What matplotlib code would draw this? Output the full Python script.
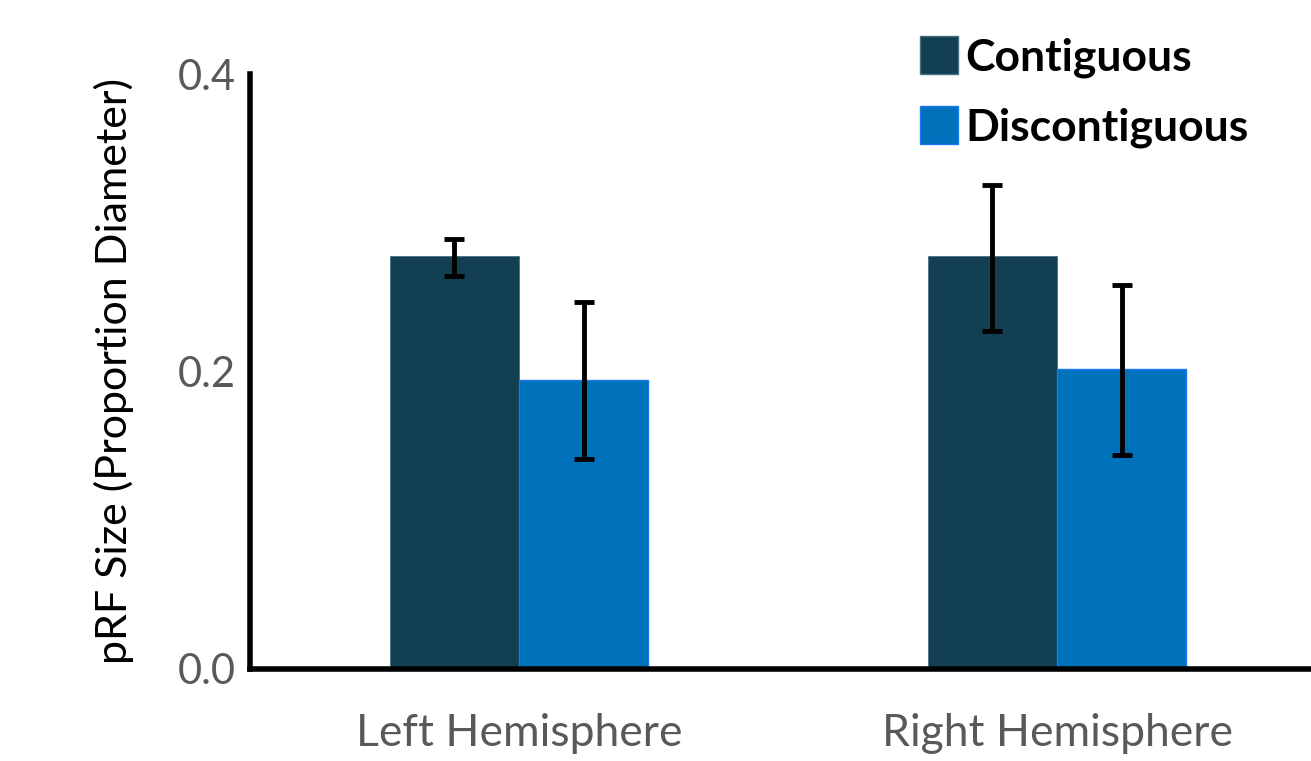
import matplotlib
matplotlib.use("Agg")
import matplotlib.pyplot as plt
import numpy as np
from matplotlib.patches import Rectangle

plt.rcParams['font.family'] = ['Lato', 'DejaVu Sans']

groups = ["Left Hemisphere", "Right Hemisphere"]
series = ["Contiguous", "Discontiguous"]
contig = [0.2776, 0.2776]
contig_lo = [0.264, 0.2272]
contig_hi = [0.289, 0.3254]
discontig = [0.1943, 0.2017]
discontig_lo = [0.1412, 0.1439]
discontig_hi = [0.2467, 0.2582]
yticks = [0.0, 0.2, 0.4]
ytick_labels = ["0.0", "0.2", "0.4"]

c1 = "#123f52"
c2 = "#0071bb"

fig = plt.figure(figsize=(13.11, 7.61), dpi=100)
ax = fig.add_axes([250/1311, 1-669/761, 1-250/1311, (669-74)/761])

x = np.arange(len(groups))
w = 0.24
err1 = [np.array(contig) - np.array(contig_lo), np.array(contig_hi) - np.array(contig)]
err2 = [np.array(discontig) - np.array(discontig_lo), np.array(discontig_hi) - np.array(discontig)]
ax.bar(x - w/2, contig, w, color=c1, edgecolor="#4a6f80", linewidth=0.6, zorder=2)
ax.bar(x + w/2, discontig, w, color=c2, edgecolor="#1a7af0", linewidth=1.0, zorder=2)
ax.errorbar(x - w/2, contig, yerr=err1, fmt='none', ecolor='black', elinewidth=3.5, capsize=7, capthick=3.5, zorder=3)
ax.errorbar(x + w/2, discontig, yerr=err2, fmt='none', ecolor='black', elinewidth=3.5, capsize=7, capthick=3.5, zorder=3)

ax.set_xlim(-0.5, 1.472)
ax.set_ylim(0, 0.4)
ax.set_yticks(yticks)
ax.set_yticklabels(ytick_labels)
ax.set_xticks(x)
ax.set_xticklabels(groups)
ax.tick_params(axis='y', length=0, labelsize=30, labelcolor="#595959", pad=10)
ax.tick_params(axis='x', length=0, labelsize=32, labelcolor="#595959", pad=32)
for s in ['top', 'right']:
    ax.spines[s].set_visible(False)
for s in ['left', 'bottom']:
    ax.spines[s].set_linewidth(4)
    ax.spines[s].set_color('black')
ax.set_ylabel("pRF Size (Proportion Diameter)", fontsize=31, color='black', labelpad=32)

# legend
for i, (name, col, ec) in enumerate(zip(series, [c1, c2], ["#4a6f80", "#1a7af0"])):
    y0 = 1 - (74 + i*70)/761
    fig.patches.append(Rectangle((920/1311, y0), 38/1311, 38/761, transform=fig.transFigure,
                                 facecolor=col, edgecolor=ec, linewidth=1))
    fig.text(965/1311, y0 + 16/761, name, fontsize=32, fontweight='bold', va='center', ha='left', color='black')

fig.savefig("out.png", dpi=100)
